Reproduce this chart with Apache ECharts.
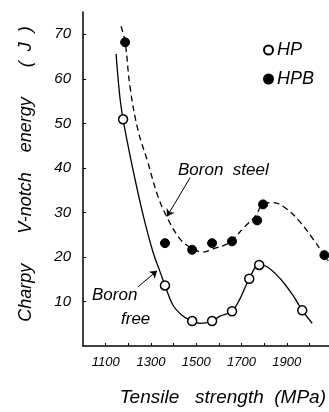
<!DOCTYPE html>
<html>
<head>
<meta charset="utf-8">
<script src="https://cdn.jsdelivr.net/npm/echarts@6/dist/echarts.min.js"></script>
<style>
html,body{margin:0;padding:0;background:#fff;}
#c{width:329px;height:412px;}
</style>
</head>
<body>
<div id="c"></div>
<script>
// Measured points
var hpX  = [1177, 1362, 1482, 1570, 1658, 1734, 1778, 1968];
var hpY  = [50.9, 13.6, 5.6, 5.6, 7.8, 15.1, 18.2, 8.0];
var hpbX = [1186, 1362, 1482, 1570, 1658, 1769, 1795, 2066];
var hpbY = [68.2, 23.1, 21.6, 23.1, 23.5, 28.2, 31.8, 20.4];

// Fitted curves
var hpCurveX  = [1146, 1163, 1177, 1199, 1221, 1265, 1309, 1340, 1362, 1398, 1437, 1473, 1517, 1570, 1605, 1658, 1694, 1734, 1778, 1813, 1871, 1928, 1968, 2012];
var hpCurveY  = [65.6, 55.8, 50.9, 45.0, 39.5, 29.5, 21.1, 16.7, 13.6, 9.1, 6.9, 5.8, 5.1, 5.6, 6.7, 7.8, 10.7, 15.1, 18.2, 17.8, 15.1, 11.3, 8.0, 5.1];
var hpbCurveX = [1168, 1186, 1208, 1243, 1283, 1331, 1376, 1429, 1473, 1530, 1574, 1636, 1663, 1716, 1760, 1795, 1840, 1901, 1959, 2016, 2061, 2083];
var hpbCurveY = [71.8, 68.2, 58.0, 48.4, 41.8, 33.6, 28.4, 24.0, 22.2, 21.1, 21.8, 22.9, 24.0, 26.9, 29.1, 31.8, 32.2, 30.7, 27.8, 24.0, 20.7, 19.1];

// Axis ticks
var xLabels = [1100, 1300, 1500, 1700, 1900];
var yLabels = [10, 20, 30, 40, 50, 60, 70];

// Annotation arrows (data coordinates)
var steelArrow = [[1473, 37.8], [1371, 29.1]];
var freeArrow  = [[1243, 13.3], [1327, 16.9]];

function zip(a, b) { return a.map(function (v, i) { return [v, b[i]]; }); }

var FONT = 'Liberation Sans';
var chart = echarts.init(document.getElementById('c'), null, {renderer: 'canvas'});
chart.setOption({
  animation: false,
  backgroundColor: '#fff',
  grid: {left: 83, right: 0, top: 12, bottom: 64, containLabel: false},
  xAxis: {
    type: 'value', min: 1000, max: 2085, interval: 100,
    name: 'Tensile   strength  (MPa)',
    nameLocation: 'middle', nameGap: 42,
    nameTextStyle: {fontFamily: FONT, fontStyle: 'italic', fontSize: 19, color: '#000', padding: [0, 0, 0, 34]},
    axisLine: {lineStyle: {color: '#000', width: 1.5}},
    axisTick: {inside: true, length: 3, lineStyle: {color: '#000', width: 1}},
    splitLine: {show: false},
    axisLabel: {
      showMinLabel: false, showMaxLabel: false, margin: 10,
      fontFamily: FONT, fontStyle: 'italic', fontSize: 13, color: '#000',
      formatter: function (v) { return xLabels.indexOf(v) >= 0 ? String(v) : ''; }
    }
  },
  yAxis: {
    type: 'value', min: 0, max: 75, interval: 10,
    name: 'Charpy      V-notch    energy      (  J  )',
    nameLocation: 'middle', nameGap: 48,
    nameTextStyle: {fontFamily: FONT, fontStyle: 'italic', fontSize: 18, color: '#000', padding: [0, 0, 0, 10]},
    axisLine: {lineStyle: {color: '#000', width: 1.5}},
    axisTick: {inside: true, length: 3, lineStyle: {color: '#000', width: 1}},
    splitLine: {show: false},
    axisLabel: {
      showMinLabel: false, showMaxLabel: false, margin: 12,
      fontFamily: FONT, fontStyle: 'italic', fontSize: 15, color: '#000',
      formatter: function (v) { return yLabels.indexOf(v) >= 0 ? String(v) : ''; }
    }
  },
  legend: {
    orient: 'vertical', left: 258, top: 36, itemWidth: 9, itemHeight: 9, itemGap: 11,
    data: ['HP', 'HPB'],
    textStyle: {fontFamily: FONT, fontStyle: 'italic', fontSize: 18, color: '#000', padding: [0, 0, 0, -1]}
  },
  series: [
    {
      name: 'HP curve', type: 'line', data: zip(hpCurveX, hpCurveY), smooth: 0.4,
      showSymbol: false, symbol: 'none', silent: true,
      lineStyle: {color: '#000', width: 1.3},
      markLine: {
        silent: true, symbol: ['none', 'arrow'], symbolSize: 7,
        label: {show: false},
        lineStyle: {color: '#000', width: 1, type: 'solid'},
        data: [[{coord: freeArrow[0]}, {coord: freeArrow[1]}]]
      },
      z: 2
    },
    {
      name: 'HPB curve', type: 'line', data: zip(hpbCurveX, hpbCurveY), smooth: 0.4,
      showSymbol: false, symbol: 'none', silent: true,
      lineStyle: {color: '#000', width: 1.3, type: [6, 4]},
      markLine: {
        silent: true, symbol: ['none', 'arrow'], symbolSize: 7,
        label: {show: false},
        lineStyle: {color: '#000', width: 1, type: 'solid'},
        data: [[{coord: steelArrow[0]}, {coord: steelArrow[1]}]]
      },
      z: 2
    },
    {
      name: 'HP', type: 'scatter', data: zip(hpX, hpY), symbol: 'circle', symbolSize: 9,
      itemStyle: {color: '#fff', borderColor: '#000', borderWidth: 1.5, opacity: 1}, z: 5
    },
    {
      name: 'HPB', type: 'scatter', data: zip(hpbX, hpbY), symbol: 'circle', symbolSize: 9,
      itemStyle: {color: '#000', borderColor: '#000', borderWidth: 1, opacity: 1}, z: 5
    }
  ],
  graphic: [
    {type: 'text', left: 178, top: 162, style: {text: 'Boron  steel', fontFamily: FONT, fontStyle: 'italic', fontSize: 17, fill: '#000'}},
    {type: 'text', left: 92, top: 287, style: {text: 'Boron', fontFamily: FONT, fontStyle: 'italic', fontSize: 17, fill: '#000'}},
    {type: 'text', left: 121, top: 311, style: {text: 'free', fontFamily: FONT, fontStyle: 'italic', fontSize: 17, fill: '#000'}}
  ]
});
</script>
</body>
</html>
